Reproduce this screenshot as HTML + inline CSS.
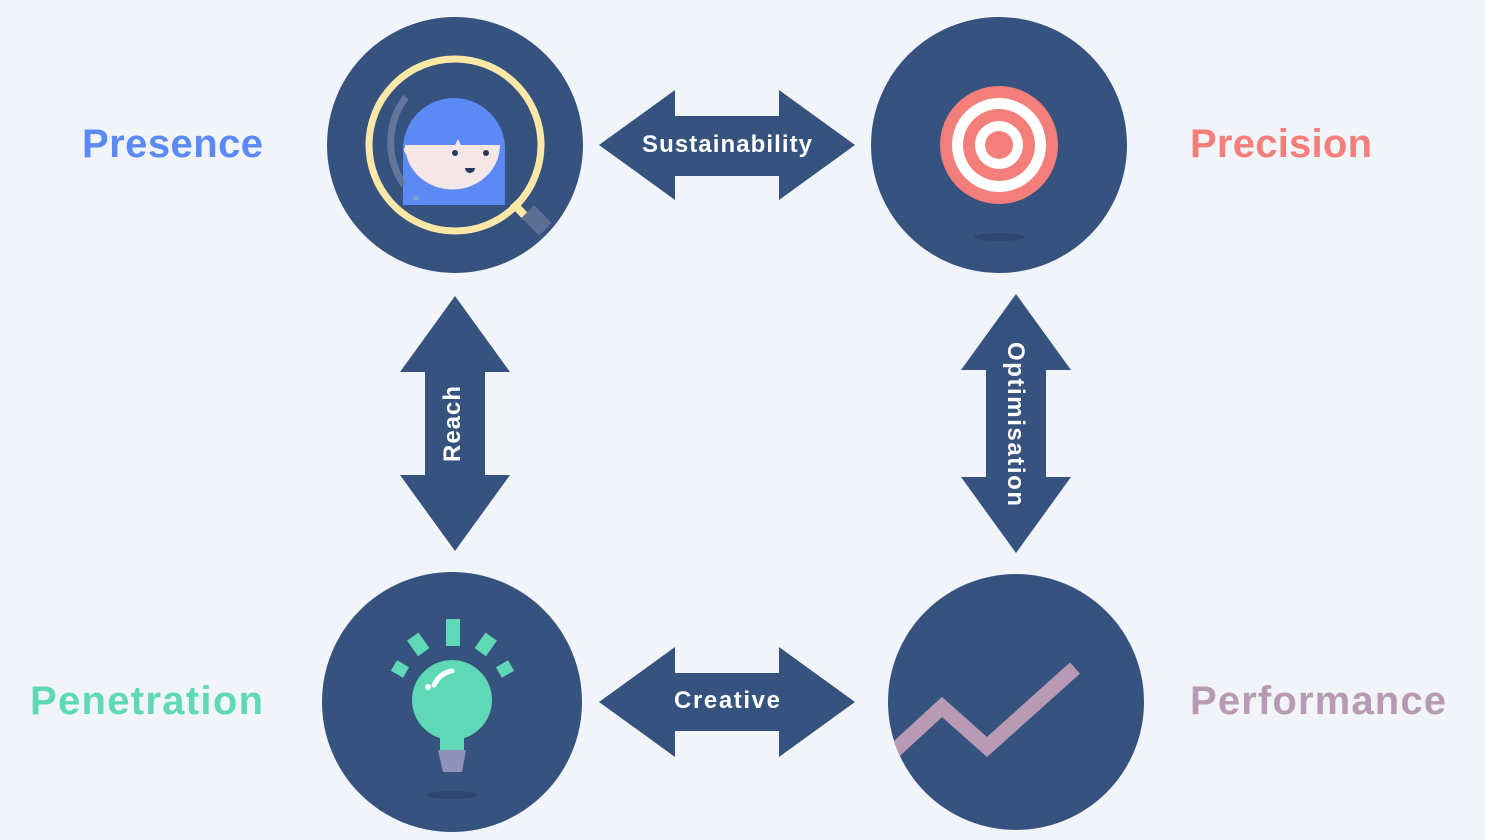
<!DOCTYPE html>
<html><head><meta charset="utf-8"><style>
html,body{margin:0;padding:0;background:#f1f5f9;}
svg{display:block;}
text{font-family:"Liberation Sans",sans-serif;font-weight:bold;}
</style></head><body>
<svg width="1485" height="840" viewBox="0 0 1485 840" xmlns="http://www.w3.org/2000/svg">
<rect width="1485" height="840" fill="#f1f5f9"/>
<defs>
<clipPath id="cbr"><circle cx="1016" cy="702" r="128"/></clipPath>
<clipPath id="ctl"><circle cx="455" cy="145" r="128"/></clipPath>
</defs>
<circle cx="455" cy="145" r="128" fill="#36527e"/>
<circle cx="999" cy="145" r="128" fill="#36527e"/>
<circle cx="452" cy="702" r="130" fill="#36527e"/>
<circle cx="1016" cy="702" r="128" fill="#36527e"/>

<polygon points="599,145 675,90 675,116 779,116 779,90 855,145 779,200 779,176 675,176 675,200" fill="#36527e"/>
<polygon points="599,702 675,647 675,673 779,673 779,647 855,702 779,757 779,731 675,731 675,757" fill="#36527e"/>
<polygon points="455,296 510,372 485,372 485,475 510,475 455,551 400,475 425,475 425,372 400,372" fill="#36527e"/>
<polygon points="1016,294 1071,370 1046,370 1046,477 1071,477 1016,553 961,477 986,477 986,370 961,370" fill="#36527e"/>

<text x="727" y="152" font-size="24" fill="#fff" text-anchor="middle" textLength="170">Sustainability</text>
<text x="727" y="708" font-size="24" fill="#fff" text-anchor="middle" textLength="106">Creative</text>
<text transform="translate(460,424) rotate(-90)" font-size="24" fill="#fff" text-anchor="middle" textLength="76">Reach</text>
<text transform="translate(1008,424) rotate(90)" font-size="24" fill="#fff" text-anchor="middle" textLength="164">Optimisation</text>

<text x="82" y="157" font-size="40" fill="#5b8af5" textLength="181">Presence</text>
<text x="1190" y="157" font-size="40" fill="#f47f7a" textLength="182">Precision</text>
<text x="30" y="714" font-size="40" fill="#5fd9b5" textLength="233">Penetration</text>
<text x="1190" y="714" font-size="40" fill="#b89ab5" textLength="256">Performance</text>

<g clip-path="url(#ctl)">
<path d="M403,205 L403,149 A51,51 0 0 1 505,149 L505,205 Z" fill="#5b8af5"/>
<path d="M405,145 L455,145 L458,139 L461,145 L500,145 A47,44 0 0 1 405,145 Z" fill="#f5e6e8"/>
<circle cx="409" cy="150" r="5" fill="#f5e6e8"/>
<circle cx="455" cy="153" r="3" fill="#253a5c"/>
<circle cx="486" cy="153" r="3" fill="#253a5c"/>
<path d="M465,168 L475,168 A5,5 0 0 1 465,168 Z" fill="#253a5c"/>
<circle cx="416" cy="198" r="3" fill="#7d9ad8"/>
<path d="M406,97 A75,75 0 0 0 404,185" stroke="#6b7fa3" stroke-width="7" fill="none" opacity="0.8"/>
<line x1="513" y1="203" x2="527" y2="218" stroke="#fce8a6" stroke-width="8"/>
<rect x="521" y="213" width="25" height="18" fill="#5d6d93" transform="rotate(45 537 225)"/>
<circle cx="455" cy="145" r="86" stroke="#fce8a6" stroke-width="7" fill="none"/>
</g>

<ellipse cx="999" cy="237" rx="25" ry="4" fill="#2e4670"/>
<circle cx="999" cy="145" r="59" fill="#f47f7a"/>
<circle cx="999" cy="145" r="47" fill="#fff"/>
<circle cx="999" cy="145" r="36" fill="#f47f7a"/>
<circle cx="999" cy="145" r="24" fill="#fff"/>
<circle cx="999" cy="145" r="14" fill="#f47f7a"/>

<ellipse cx="452" cy="795" rx="25" ry="4" fill="#2e4670"/>
<rect x="446" y="619" width="14" height="27" fill="#5fd9b5"/>
<rect x="411" y="635" width="14" height="19" fill="#5fd9b5" transform="rotate(-35 418 644)"/>
<rect x="479" y="635" width="14" height="19" fill="#5fd9b5" transform="rotate(35 486 644)"/>
<rect x="394" y="662" width="12" height="14" fill="#5fd9b5" transform="rotate(-60 400 669)"/>
<rect x="499" y="662" width="12" height="14" fill="#5fd9b5" transform="rotate(60 505 669)"/>
<circle cx="452" cy="700" r="40" fill="#5fd9b5"/>
<rect x="440" y="725" width="24" height="28" fill="#5fd9b5"/>
<polygon points="438,750 466,750 462,772 443,772" fill="#8e92b8"/>
<path d="M434,685 Q440,673 452,671" stroke="#fff" stroke-width="5" fill="none" stroke-linecap="round"/>
<circle cx="428" cy="687" r="3" fill="#fff"/>

<g clip-path="url(#cbr)">
<polyline points="880,764 942,707 987,747 1075,668" stroke="#b89ab5" stroke-width="15" fill="none" stroke-linejoin="miter"/>
</g>
</svg>
</body></html>
